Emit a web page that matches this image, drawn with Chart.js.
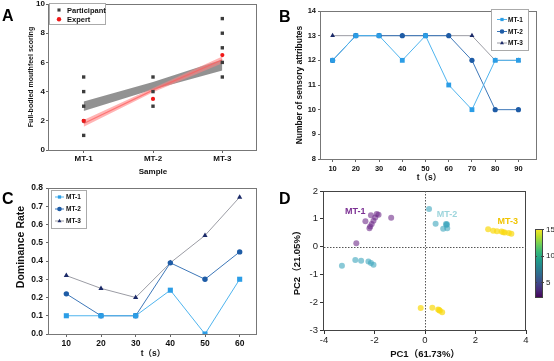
<!DOCTYPE html>
<html><head><meta charset="utf-8">
<script src="https://cdn.jsdelivr.net/npm/chart.js@4.4.1/dist/chart.umd.min.js"></script>
<style>
html,body{margin:0;padding:0;background:#fff;}
#wrap{position:relative;width:554px;height:361px;overflow:hidden;background:#fff;}
canvas{position:absolute;display:block;}
.plabel{position:absolute;font:bold 16px "Liberation Sans",Arial,sans-serif;line-height:16px;color:#000;}
</style></head><body>
<div id="wrap">
  <canvas id="cA" width="277" height="180" style="left:0;top:0"></canvas>
  <canvas id="cC" width="277" height="181" style="left:0;top:180px"></canvas>
  <canvas id="cD" width="277" height="181" style="left:277px;top:180px"></canvas>
  <canvas id="cB" width="277" height="190" style="left:277px;top:0"></canvas>
  <div class="plabel" style="left:2px;top:8px">A</div>
  <div class="plabel" style="left:279px;top:9px">B</div>
  <div class="plabel" style="left:2px;top:191px">C</div>
  <div class="plabel" style="left:279px;top:191px">D</div>
</div>
<script>
// ---------------- DATA ----------------
// Panel A
const sampleCats = ['MT-1', 'MT-2', 'MT-3'];
const participantScores = [[1, 2, 3, 4, 5], [3, 4, 5], [5, 6, 7, 8, 9]];
const expertScores = [2, 3.5, 6.5];
const participantBandLow = [2.67, 4.15, 5.45];
const participantBandHigh = [3.33, 4.65, 6.2];
const expertFit = [1.82, 4.1, 6.18];
const expertBandLow = [1.6, 3.95, 5.95];
const expertBandHigh = [2.05, 4.25, 6.4];

// Panel B
const timeB = [10, 20, 30, 40, 50, 60, 70, 80, 90];
const attrMT1 = [12, 13, 13, 12, 13, 11, 10, 12, 12];
const attrMT2 = [12, 13, 13, 13, 13, 13, 12, 10, 10];
const attrMT3 = [13, 13, 13, 13, 13, 13, 13, 12, 12];

// Panel C
const timeC = [10, 20, 30, 40, 50, 60];
const domMT1 = [0.10, 0.10, 0.10, 0.24, 0.00, 0.30];
const domMT2 = [0.22, 0.10, 0.10, 0.39, 0.30, 0.45];
const domMT3 = [0.32, 0.25, 0.20, 0.39, 0.54, 0.75];

// Panel D (PC1, PC2)
const pcaMT1 = [[-2.14, 1.13], [-1.91, 1.17], [-1.84, 1.15], [-1.97, 1.05], [-2.04, 0.93], [-2.11, 0.81],
  [-2.17, 0.72], [-2.20, 0.66], [-2.36, 0.91], [-1.34, 1.04], [-2.72, 0.12]];
const pcaMT2 = [[0.16, 1.35], [0.42, 0.82], [0.83, 0.81], [0.87, 0.80], [0.85, 0.78], [0.72, 0.64], [0.88, 0.66],
  [-3.29, -0.69], [-2.76, -0.48], [-2.53, -0.51], [-2.24, -0.54], [-2.14, -0.59], [-2.04, -0.65]];
const pcaMT3 = [[2.50, 0.62], [2.70, 0.57], [2.85, 0.55], [3.03, 0.54], [3.10, 0.52], [3.16, 0.51], [3.32, 0.49], [3.42, 0.46],
  [-0.17, -2.21], [0.29, -2.20], [0.52, -2.26], [0.56, -2.28], [0.59, -2.31], [0.68, -2.36]];
const colorbarRange = [2, 15];
const colorbarTicks = [5, 10, 15];

// ---------------- STYLE / PLUGINS ----------------
const FONT = '"Liberation Sans", Arial, "Noto Sans CJK SC", sans-serif';
Chart.defaults.font.family = FONT;
Chart.defaults.font.lineHeight = 1.2;
Chart.defaults.color = '#111';
Chart.defaults.animation = false;

const fixedY = w => s => { s.width = w; s.paddingTop = 0; s.paddingBottom = 0; };
const fixedX = h => s => { s.height = h; s.paddingLeft = 0; s.paddingRight = 0; };

const framePlugin = {
  id: 'frame',
  beforeDatasetsDraw(chart, args, o) {
    if (!o.show) return;
    const a = chart.chartArea, ctx = chart.ctx;
    ctx.save();
    ctx.strokeStyle = o.color; ctx.lineWidth = 1;
    ctx.strokeRect(Math.round(a.left) - 0.5, Math.round(a.top) + 0.5, Math.round(a.right - a.left), Math.round(a.bottom - a.top));
    ctx.restore();
  }
};

const zeroLines = {
  id: 'zeroLines',
  beforeDatasetsDraw(chart, args, o) {
    if (!o.show) return;
    const {ctx, chartArea: a, scales: {x, y}} = chart;
    ctx.save();
    ctx.strokeStyle = '#555'; ctx.lineWidth = 1; ctx.setLineDash([1.5, 1.5]);
    const px = Math.round(x.getPixelForValue(0)) + 0.5, py = Math.round(y.getPixelForValue(0)) + 0.5;
    ctx.beginPath(); ctx.moveTo(px, a.top); ctx.lineTo(px, a.bottom); ctx.stroke();
    ctx.beginPath(); ctx.moveTo(a.left, py); ctx.lineTo(a.right, py); ctx.stroke();
    ctx.restore();
  }
};

const boxLegend = {
  id: 'boxLegend',
  afterDraw(chart, args, o) {
    if (!o.show) return;
    const ctx = chart.ctx;
    ctx.save();
    ctx.fillStyle = '#fff';
    ctx.fillRect(o.left, o.top, o.width, o.height);
    ctx.strokeStyle = o.borderColor; ctx.lineWidth = 1;
    ctx.strokeRect(o.left + 0.5, o.top + 0.5, o.width, o.height);
    const items = chart.data.datasets.filter(d => d.inLegend);
    items.forEach((d, i) => {
      const y = o.rows[i];
      if (o.lineFrom != null) {
        ctx.strokeStyle = d.borderColor; ctx.lineWidth = 1;
        ctx.beginPath(); ctx.moveTo(o.lineFrom, y); ctx.lineTo(o.lineTo, y); ctx.stroke();
      }
      ctx.fillStyle = d.pointBackgroundColor; ctx.strokeStyle = d.pointBackgroundColor;
      Chart.helpers.drawPoint(ctx, {pointStyle: d.pointStyle, rotation: 0, radius: o.markerRadius, borderWidth: 0}, o.markerX, y);
      ctx.fillStyle = '#111'; ctx.font = o.font; ctx.textBaseline = 'middle'; ctx.textAlign = 'left';
      ctx.fillText(d.label, o.textX, y + 0.5);
    });
    ctx.restore();
  }
};

const sideTitle = {
  id: 'sideTitle',
  afterDraw(chart, args, o) {
    if (!o.show) return;
    const ctx = chart.ctx;
    ctx.save();
    ctx.translate(o.x, o.y); ctx.rotate(-Math.PI / 2);
    ctx.font = o.font; ctx.fillStyle = '#111'; ctx.textAlign = 'center'; ctx.textBaseline = 'middle';
    ctx.fillText(o.text, 0, 0);
    ctx.restore();
  }
};

const colorBar = {
  id: 'colorBar',
  afterDraw(chart, args, o) {
    if (!o.show) return;
    const ctx = chart.ctx;
    const [mn, mx] = o.range;
    ctx.save();
    const g = ctx.createLinearGradient(0, o.y + o.h, 0, o.y);
    const vir = ['#440154', '#482878', '#3e4989', '#31688e', '#26828e', '#1f9e89', '#35b779', '#6ece58', '#b5de2b', '#fde725'];
    vir.forEach((c, i) => g.addColorStop(i / (vir.length - 1), c));
    ctx.fillStyle = g;
    ctx.fillRect(o.x, o.y, o.w, o.h);
    ctx.strokeStyle = '#444'; ctx.lineWidth = 1;
    ctx.strokeRect(o.x + 0.5, o.y + 0.5, o.w - 1, o.h - 1);
    ctx.font = o.font; ctx.fillStyle = '#222'; ctx.textBaseline = 'middle'; ctx.textAlign = 'left';
    o.ticks.forEach(t => {
      const py = o.y + o.h - (t - mn) / (mx - mn) * o.h;
      ctx.beginPath(); ctx.moveTo(o.x, Math.round(py) + 0.5); ctx.lineTo(o.x + 2, Math.round(py) + 0.5);
      ctx.moveTo(o.x + o.w - 2, Math.round(py) + 0.5); ctx.lineTo(o.x + o.w + 1, Math.round(py) + 0.5); ctx.stroke();
      ctx.fillText(String(t), o.x + o.w + 3, py + 0.5);
    });
    ctx.restore();
  }
};

const clusterLabels = {
  id: 'clusterLabels',
  afterDatasetsDraw(chart, args, o) {
    if (!o.show) return;
    const {ctx, scales: {x, y}} = chart;
    ctx.save();
    ctx.font = o.font; ctx.textAlign = 'center'; ctx.textBaseline = 'middle';
    o.items.forEach(it => {
      ctx.fillStyle = it.color;
      ctx.fillText(it.text, x.getPixelForValue(it.at[0]), y.getPixelForValue(it.at[1]));
    });
    ctx.restore();
  }
};

Chart.register(framePlugin, zeroLines, boxLegend, sideTitle, colorBar, clusterLabels);

const tickGrid = (len, col) => ({display: true, drawOnChartArea: false, drawTicks: true, tickLength: len, color: col || '#666', tickColor: col || '#666'});
const noLegend = {legend: {display: false}, tooltip: {enabled: false}};

// ---------------- PANEL A ----------------
const xy = (xs, ys) => xs.map((v, i) => ({x: v, y: ys[i]}));
const catIdx = sampleCats.map((_, i) => i + 1);
new Chart(document.getElementById('cA'), {
  type: 'line',
  data: {
    datasets: [
      {label: 'Participant', inLegend: true, showLine: false,
        data: participantScores.flatMap((arr, i) => arr.map(v => ({x: i + 1, y: v}))),
        pointStyle: 'rect', pointRadius: 2.4, pointBorderWidth: 0,
        pointBackgroundColor: '#3c3c3c', borderColor: '#3c3c3c', order: 1},
      {label: 'Expert', inLegend: true, showLine: false,
        data: xy(catIdx, expertScores),
        pointStyle: 'circle', pointRadius: 2.1, pointBorderWidth: 0,
        pointBackgroundColor: '#f01818', borderColor: '#f01818', order: 0},
      {label: 'pLow', data: xy(catIdx, participantBandLow), borderWidth: 0, pointRadius: 0, fill: false, order: 6},
      {label: 'pHigh', data: xy(catIdx, participantBandHigh), borderWidth: 0, pointRadius: 0,
        fill: '-1', backgroundColor: 'rgba(115,115,115,0.78)', order: 5},
      {label: 'eLow', data: xy(catIdx, expertBandLow), borderWidth: 0, pointRadius: 0, fill: false, order: 4},
      {label: 'eHigh', data: xy(catIdx, expertBandHigh), borderWidth: 0, pointRadius: 0,
        fill: '-1', backgroundColor: 'rgba(255,130,130,0.6)', order: 3},
      {label: 'eFit', data: xy(catIdx, expertFit), borderWidth: 1.2, pointRadius: 0,
        borderColor: 'rgba(255,95,95,0.75)', fill: false, order: 2}
    ]
  },
  options: {
    responsive: false, devicePixelRatio: 1,
    layout: {padding: {top: 3, right: 20, left: 0, bottom: 0}},
    scales: {
      x: {type: 'linear', min: 0.5, max: 3.5,
        afterBuildTicks: s => { s.ticks = catIdx.map(v => ({value: v})); },
        afterFit: fixedX(30),
        ticks: {callback: v => sampleCats[v - 1], font: {size: 8, weight: 'bold'}, padding: 1, autoSkip: false, maxRotation: 0},
        grid: tickGrid(3), border: {display: false},
        title: {display: true, text: 'Sample', font: {size: 8, weight: 'bold'}, padding: {top: 0, bottom: 3.5}}},
      y: {min: 0, max: 10, afterFit: fixedY(49),
        ticks: {stepSize: 2, font: {size: 8, weight: 'bold'}, padding: 1},
        grid: tickGrid(3), border: {display: false},
        title: {display: true, text: 'Full-bodied mouthfeel scoring', font: {size: 7, weight: 'bold'}, padding: {top: 27, bottom: 0}}}
    },
    plugins: Object.assign({}, noLegend, {
      frame: {show: true, color: '#777'},
      boxLegend: {show: true, left: 49, top: 3, width: 56, height: 21, borderColor: '#aaa',
        rows: [10, 19.3], markerX: 59, markerRadius: 2.2, textX: 67, font: 'bold 7.5px ' + FONT}
    })
  }
});

// ---------------- PANEL B ----------------
new Chart(document.getElementById('cB'), {
  type: 'line',
  data: {
    datasets: [
      {label: 'MT-1', inLegend: true, data: xy(timeB, attrMT1), borderColor: '#4fb4ee', borderWidth: 1,
        pointStyle: 'rect', pointRadius: 3.4, pointBorderWidth: 0, pointBackgroundColor: '#2b9de6', tension: 0, order: 0},
      {label: 'MT-2', inLegend: true, data: xy(timeB, attrMT2), borderColor: '#3d77b8', borderWidth: 1,
        pointStyle: 'circle', pointRadius: 2.6, pointBorderWidth: 0, pointBackgroundColor: '#1e5ca6', tension: 0, order: 1},
      {label: 'MT-3', inLegend: true, data: xy(timeB, attrMT3), borderColor: '#9b9ca4', borderWidth: 1,
        pointStyle: 'triangle', pointRadius: 2.8, pointBorderWidth: 0, pointBackgroundColor: '#1b2a68', tension: 0, order: 2}
    ]
  },
  options: {
    responsive: false, devicePixelRatio: 1,
    layout: {padding: {top: 11, right: 17, left: 0, bottom: 0}},
    scales: {
      x: {type: 'linear', min: 5, max: 98,
        afterBuildTicks: s => { s.ticks = timeB.map(v => ({value: v})); },
        afterFit: fixedX(31),
        ticks: {font: {size: 7.5, weight: 'bold'}, padding: 2, autoSkip: false, maxRotation: 0},
        grid: tickGrid(3), border: {display: false},
        title: {display: true, text: 't（s）', font: {size: 8.5, weight: 'bold'}, padding: {top: 0, bottom: 7}}},
      y: {min: 8, max: 14, afterFit: fixedY(44),
        ticks: {stepSize: 1, font: {size: 7.5, weight: 'bold'}, padding: 2},
        grid: tickGrid(3), border: {display: false},
        title: {display: true, text: 'Number of sensory attributes', font: {size: 8.5, weight: 'bold'}, padding: {top: 18, bottom: 0}}}
    },
    plugins: Object.assign({}, noLegend, {
      frame: {show: true, color: '#777'},
      boxLegend: {show: true, left: 214, top: 9, width: 37, height: 41, borderColor: '#aaa',
        rows: [19.5, 31.5, 43], lineFrom: 220, lineTo: 230, markerX: 225, markerRadius: 2.3, textX: 231, font: 'bold 6.5px ' + FONT}
    })
  }
});

// ---------------- PANEL C ----------------
new Chart(document.getElementById('cC'), {
  type: 'line',
  data: {
    datasets: [
      {label: 'MT-1', inLegend: true, data: xy(timeC, domMT1), borderColor: '#4fb4ee', borderWidth: 1,
        pointStyle: 'rect', pointRadius: 3.6, pointBorderWidth: 0, pointBackgroundColor: '#2b9de6', tension: 0, order: 0},
      {label: 'MT-2', inLegend: true, data: xy(timeC, domMT2), borderColor: '#3d77b8', borderWidth: 1,
        pointStyle: 'circle', pointRadius: 2.7, pointBorderWidth: 0, pointBackgroundColor: '#1e5ca6', tension: 0, order: 1},
      {label: 'MT-3', inLegend: true, data: xy(timeC, domMT3), borderColor: '#9b9ca4', borderWidth: 1,
        pointStyle: 'triangle', pointRadius: 3, pointBorderWidth: 0, pointBackgroundColor: '#1b2a68', tension: 0, order: 2}
    ]
  },
  options: {
    responsive: false, devicePixelRatio: 1,
    layout: {padding: {top: 8, right: 20, left: 0, bottom: 0}},
    scales: {
      x: {type: 'linear', min: 5, max: 65,
        afterBuildTicks: s => { s.ticks = timeC.map(v => ({value: v})); },
        afterFit: fixedX(27),
        ticks: {font: {size: 8.5, weight: 'bold'}, padding: 2, autoSkip: false, maxRotation: 0},
        grid: tickGrid(3), border: {display: false},
        title: {display: true, text: 't（s）', font: {size: 8.5, weight: 'bold'}, padding: {top: 0, bottom: 2}}},
      y: {min: 0, max: 0.8, afterFit: fixedY(49),
        ticks: {stepSize: 0.1, font: {size: 8.5, weight: 'bold'}, padding: 3, callback: v => v.toFixed(1)},
        grid: tickGrid(3), border: {display: false},
        title: {display: false}}
    },
    plugins: Object.assign({}, noLegend, {
      frame: {show: true, color: '#777'},
      sideTitle: {show: true, text: 'Dominance Rate', x: 21.5, y: 67, font: 'bold 10.5px ' + FONT},
      boxLegend: {show: true, left: 51, top: 10, width: 35, height: 38, borderColor: '#aaa',
        rows: [17, 29, 41], lineFrom: 55, lineTo: 64, markerX: 59.5, markerRadius: 2.3, textX: 66, font: 'bold 6.5px ' + FONT}
    })
  }
});

// ---------------- PANEL D ----------------
const toXY = arr => arr.map(p => ({x: p[0], y: p[1]}));
new Chart(document.getElementById('cD'), {
  type: 'scatter',
  data: {
    datasets: [
      {label: 'MT-1', data: toXY(pcaMT1), pointRadius: 3, pointBorderWidth: 0, pointBackgroundColor: 'rgba(112,45,138,0.6)'},
      {label: 'MT-2', data: toXY(pcaMT2), pointRadius: 3, pointBorderWidth: 0, pointBackgroundColor: 'rgba(60,165,188,0.6)'},
      {label: 'MT-3', data: toXY(pcaMT3), pointRadius: 3, pointBorderWidth: 0, pointBackgroundColor: 'rgba(250,218,20,0.72)'}
    ]
  },
  options: {
    responsive: false, devicePixelRatio: 1,
    layout: {padding: {top: 11, right: 28, left: 0, bottom: 0}},
    scales: {
      x: {type: 'linear', min: -4, max: 4, afterFit: fixedX(31),
        ticks: {stepSize: 2, font: {size: 9.5}, color: '#222', padding: 1},
        grid: tickGrid(4, '#333'), border: {display: false},
        title: {display: true, text: 'PC1（61.73%）', font: {size: 9.5, weight: 'bold'}, padding: {top: 0, bottom: 1.3}}},
      y: {min: -3, max: 2, afterFit: fixedY(47),
        ticks: {stepSize: 1, font: {size: 9.5}, color: '#222', padding: 2},
        grid: tickGrid(4, '#333'), border: {display: false},
        title: {display: true, text: 'PC2（21.05%）', font: {size: 9.5, weight: 'bold'}, padding: {top: 14.3, bottom: 0}}}
    },
    plugins: Object.assign({}, noLegend, {
      frame: {show: true, color: '#444'},
      zeroLines: {show: true},
      clusterLabels: {show: true, font: 'bold 9px ' + FONT, items: [
        {text: sampleCats[0], at: [-2.76, 1.28], color: '#7b2f93'},
        {text: sampleCats[1], at: [0.87, 1.17], color: '#9dd5dc'},
        {text: sampleCats[2], at: [3.28, 0.92], color: '#f0c400'}
      ]},
      colorBar: {show: true, x: 258, y: 49, w: 8, h: 69, range: colorbarRange, ticks: colorbarTicks, font: '8px ' + FONT}
    })
  }
});
</script>
</body></html>
